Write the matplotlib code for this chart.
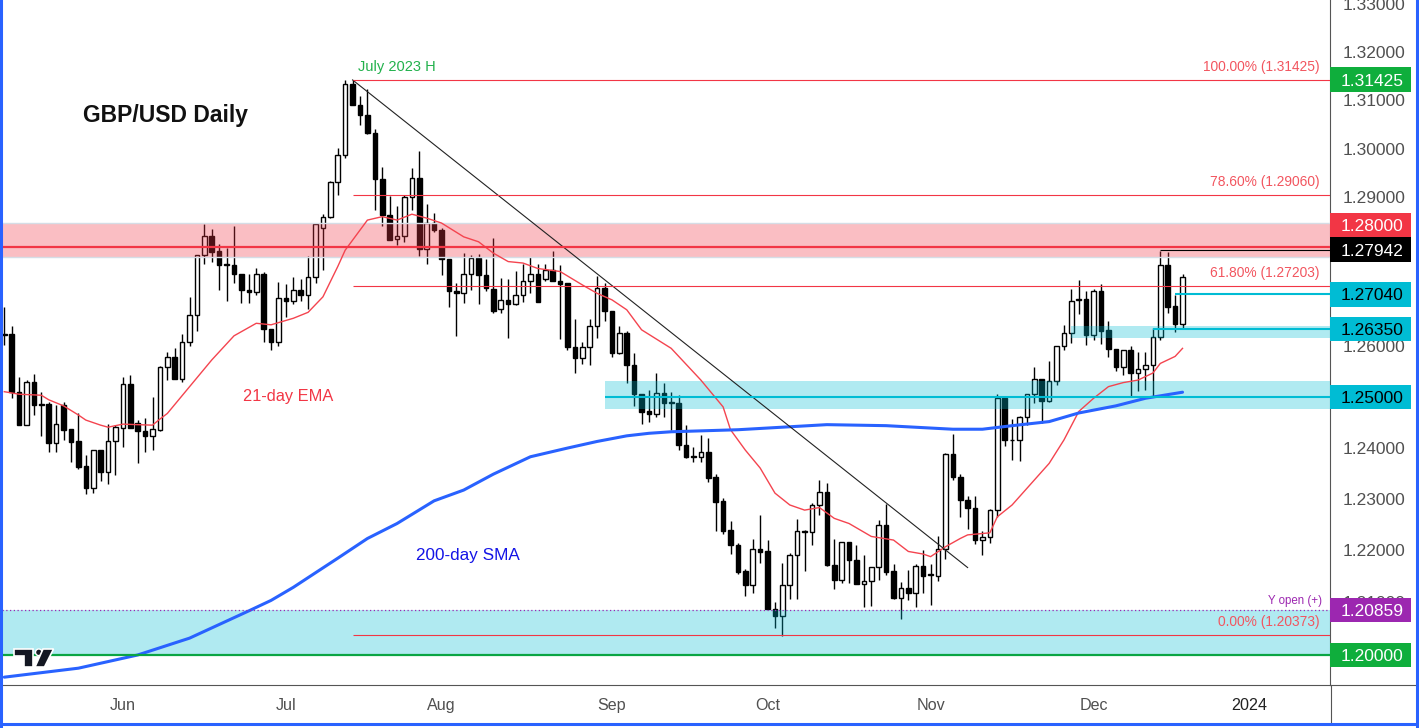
import numpy as np
import pandas as pd
import matplotlib
matplotlib.use("Agg")
import matplotlib.pyplot as plt
from matplotlib.patches import Rectangle, Polygon, Ellipse
from matplotlib.lines import Line2D
from matplotlib.ticker import FixedLocator, FuncFormatter, NullLocator

plt.rcParams['font.family'] = ['Liberation Sans', 'DejaVu Sans']

# ---------------- data (GBP/USD daily) ----------------
first_day = '2023-05-10'
opens = [1.2622, 1.2625, 1.2509, 1.2445, 1.2529, 1.2485, 1.2485, 1.2408, 1.2484, 1.2436,
         1.2413, 1.2363, 1.2321, 1.2395, 1.2353, 1.2412, 1.2439, 1.2525, 1.2448, 1.2433,
         1.2422, 1.2435, 1.2558, 1.2578, 1.2535, 1.2609, 1.2663, 1.2783, 1.2822, 1.2791,
         1.2765, 1.2764, 1.2744, 1.2713, 1.2709, 1.2744, 1.2634, 1.2609, 1.2696, 1.2690,
         1.2713, 1.2702, 1.2738, 1.2837, 1.2860, 1.2932, 1.2986, 1.3134, 1.3089, 1.3070,
         1.3032, 1.2937, 1.2865, 1.2815, 1.2822, 1.2900, 1.2939, 1.2795, 1.2848, 1.2834,
         1.2776, 1.2711, 1.2706, 1.2745, 1.2778, 1.2742, 1.2715, 1.2674, 1.2693, 1.2685,
         1.2703, 1.2731, 1.2745, 1.2734, 1.2754, 1.2731, 1.2726, 1.2599, 1.2577, 1.2599,
         1.2641, 1.2716, 1.2671, 1.2586, 1.2626, 1.2563, 1.2505, 1.2472, 1.2466, 1.2507,
         1.2488, 1.2488, 1.2406, 1.2383, 1.2382, 1.2391, 1.2342, 1.2296, 1.2240, 1.2211,
         1.2160, 1.2134, 1.2202, 1.2198, 1.2087, 1.2075, 1.2133, 1.2191, 1.2237, 1.2236,
         1.2287, 1.2314, 1.2172, 1.2143, 1.2216, 1.2182, 1.2136, 1.2141, 1.2169, 1.2249,
         1.2160, 1.2109, 1.2127, 1.2119, 1.2170, 1.2152, 1.2151, 1.2202, 1.2387, 1.2343,
         1.2298, 1.2282, 1.2221, 1.2226, 1.2278, 1.2498, 1.2414, 1.2414, 1.2461, 1.2505,
         1.2536, 1.2492, 1.2531, 1.2601, 1.2626, 1.2692, 1.2695, 1.2622, 1.2711, 1.2632,
         1.2594, 1.2558, 1.2593, 1.2548, 1.2555, 1.2562, 1.2618, 1.2764, 1.2680, 1.2645]
highs = [1.2678, 1.2641, 1.2539, 1.2533, 1.2545, 1.2509, 1.2490, 1.2484, 1.2490, 1.2436,
         1.2467, 1.2385, 1.2395, 1.2395, 1.2446, 1.2444, 1.2540, 1.2543, 1.2454, 1.2458,
         1.2499, 1.2561, 1.2589, 1.2596, 1.2624, 1.2698, 1.2783, 1.2847, 1.2835, 1.2805,
         1.2797, 1.2842, 1.2744, 1.2745, 1.2758, 1.2749, 1.2634, 1.2728, 1.2725, 1.2739,
         1.2734, 1.2781, 1.2847, 1.2867, 1.2934, 1.3001, 1.3142, 1.3142, 1.3108, 1.3123,
         1.3041, 1.2962, 1.2904, 1.2883, 1.2906, 1.2960, 1.2996, 1.2887, 1.2869, 1.2837,
         1.2776, 1.2727, 1.2788, 1.2783, 1.2785, 1.2776, 1.2817, 1.2736, 1.2735, 1.2750,
         1.2765, 1.2779, 1.2765, 1.2765, 1.2791, 1.2764, 1.2726, 1.2654, 1.2609, 1.2654,
         1.2740, 1.2727, 1.2671, 1.2640, 1.2631, 1.2586, 1.2505, 1.2513, 1.2548, 1.2528,
         1.2510, 1.2504, 1.2444, 1.2402, 1.2424, 1.2419, 1.2349, 1.2302, 1.2257, 1.2215,
         1.2165, 1.2223, 1.2269, 1.2220, 1.2100, 1.2175, 1.2195, 1.2260, 1.2240, 1.2291,
         1.2337, 1.2330, 1.2223, 1.2216, 1.2216, 1.2210, 1.2192, 1.2169, 1.2258, 1.2289,
         1.2174, 1.2139, 1.2162, 1.2173, 1.2200, 1.2173, 1.2227, 1.2390, 1.2427, 1.2348,
         1.2306, 1.2306, 1.2237, 1.2281, 1.2505, 1.2498, 1.2456, 1.2463, 1.2505, 1.2559,
         1.2536, 1.2570, 1.2601, 1.2642, 1.2715, 1.2733, 1.2711, 1.2714, 1.2725, 1.2650,
         1.2594, 1.2593, 1.2601, 1.2589, 1.2589, 1.2636, 1.2792, 1.2789, 1.2702, 1.2744]
lows = [1.2603, 1.2497, 1.2445, 1.2445, 1.2464, 1.2422, 1.2391, 1.2391, 1.2414, 1.2372,
        1.2358, 1.2309, 1.2312, 1.2335, 1.2328, 1.2347, 1.2402, 1.2439, 1.2369, 1.2392,
        1.2395, 1.2433, 1.2533, 1.2535, 1.2530, 1.2600, 1.2630, 1.2766, 1.2769, 1.2713,
        1.2691, 1.2726, 1.2686, 1.2687, 1.2703, 1.2609, 1.2592, 1.2600, 1.2659, 1.2684,
        1.2690, 1.2674, 1.2726, 1.2752, 1.2858, 1.2906, 1.2980, 1.3089, 1.3049, 1.3030,
        1.2875, 1.2841, 1.2814, 1.2803, 1.2809, 1.2875, 1.2781, 1.2765, 1.2829, 1.2743,
        1.2679, 1.2621, 1.2686, 1.2713, 1.2684, 1.2710, 1.2667, 1.2667, 1.2617, 1.2683,
        1.2688, 1.2706, 1.2688, 1.2730, 1.2730, 1.2615, 1.2592, 1.2547, 1.2565, 1.2563,
        1.2617, 1.2651, 1.2578, 1.2585, 1.2528, 1.2482, 1.2446, 1.2451, 1.2460, 1.2460,
        1.2434, 1.2396, 1.2379, 1.2372, 1.2372, 1.2332, 1.2237, 1.2231, 1.2194, 1.2154,
        1.2112, 1.2119, 1.2176, 1.2087, 1.2052, 1.2037, 1.2106, 1.2106, 1.2160, 1.2210,
        1.2269, 1.2170, 1.2125, 1.2138, 1.2137, 1.2136, 1.2091, 1.2094, 1.2143, 1.2153,
        1.2106, 1.2068, 1.2105, 1.2091, 1.2119, 1.2096, 1.2141, 1.2184, 1.2337, 1.2264,
        1.2242, 1.2212, 1.2192, 1.2215, 1.2265, 1.2403, 1.2376, 1.2374, 1.2444, 1.2487,
        1.2449, 1.2490, 1.2523, 1.2592, 1.2607, 1.2664, 1.2603, 1.2612, 1.2605, 1.2579,
        1.2551, 1.2543, 1.2502, 1.2512, 1.2513, 1.2502, 1.2612, 1.2667, 1.2628, 1.2636]
closes = [1.2625, 1.2509, 1.2445, 1.2529, 1.2484, 1.2484, 1.2408, 1.2446, 1.2435, 1.2411,
          1.2362, 1.2321, 1.2395, 1.2353, 1.2412, 1.2441, 1.2525, 1.2439, 1.2433, 1.2422,
          1.2436, 1.2558, 1.2578, 1.2535, 1.2609, 1.2663, 1.2783, 1.2822, 1.2790, 1.2764,
          1.2764, 1.2744, 1.2712, 1.2709, 1.2744, 1.2634, 1.2609, 1.2696, 1.2690, 1.2713,
          1.2702, 1.2738, 1.2847, 1.2860, 1.2932, 1.2987, 1.3134, 1.3089, 1.3070, 1.3032,
          1.2937, 1.2864, 1.2814, 1.2822, 1.2900, 1.2939, 1.2795, 1.2848, 1.2833, 1.2775,
          1.2711, 1.2706, 1.2745, 1.2778, 1.2742, 1.2716, 1.2670, 1.2693, 1.2685, 1.2703,
          1.2731, 1.2745, 1.2688, 1.2754, 1.2730, 1.2724, 1.2599, 1.2577, 1.2599, 1.2641,
          1.2716, 1.2671, 1.2586, 1.2626, 1.2562, 1.2505, 1.2470, 1.2466, 1.2507, 1.2488,
          1.2487, 1.2405, 1.2382, 1.2382, 1.2391, 1.2341, 1.2294, 1.2238, 1.2210, 1.2158,
          1.2134, 1.2202, 1.2197, 1.2087, 1.2075, 1.2134, 1.2191, 1.2237, 1.2236, 1.2287,
          1.2314, 1.2172, 1.2143, 1.2216, 1.2181, 1.2136, 1.2141, 1.2169, 1.2249, 1.2158,
          1.2109, 1.2127, 1.2119, 1.2170, 1.2151, 1.2152, 1.2202, 1.2387, 1.2342, 1.2298,
          1.2282, 1.2221, 1.2226, 1.2278, 1.2498, 1.2414, 1.2414, 1.2461, 1.2505, 1.2536,
          1.2492, 1.2531, 1.2601, 1.2626, 1.2691, 1.2695, 1.2622, 1.2711, 1.2631, 1.2594,
          1.2558, 1.2593, 1.2548, 1.2555, 1.2562, 1.2618, 1.2764, 1.2679, 1.2645, 1.2739]

# 21-day EMA, read at sample dates
ema_dates = ['2023-05-10', '2023-05-12', '2023-05-17', '2023-05-18', '2023-05-22', '2023-05-24',
             '2023-05-25', '2023-05-29', '2023-05-30', '2023-06-01', '2023-06-05', '2023-06-07',
             '2023-06-08', '2023-06-09', '2023-06-19', '2023-06-22', '2023-06-27', '2023-06-29',
             '2023-07-04', '2023-07-06', '2023-07-10', '2023-07-12', '2023-07-13', '2023-07-18',
             '2023-07-20', '2023-07-24', '2023-07-26', '2023-07-28', '2023-08-01', '2023-08-04',
             '2023-08-08', '2023-08-10', '2023-08-14', '2023-08-16', '2023-08-18', '2023-08-23',
             '2023-08-28', '2023-08-30', '2023-09-01', '2023-09-05', '2023-09-07', '2023-09-13',
             '2023-09-19', '2023-09-22', '2023-09-25', '2023-09-27', '2023-09-29', '2023-10-03',
             '2023-10-05', '2023-10-09', '2023-10-11', '2023-10-13', '2023-10-17', '2023-10-20',
             '2023-10-25', '2023-10-27', '2023-10-31', '2023-11-01', '2023-11-03', '2023-11-07',
             '2023-11-08', '2023-11-13', '2023-11-14', '2023-11-16', '2023-11-23', '2023-11-27',
             '2023-11-29', '2023-12-01', '2023-12-05', '2023-12-07', '2023-12-11', '2023-12-13',
             '2023-12-14', '2023-12-18', '2023-12-19']
ema_values = [1.2510, 1.2505, 1.2503, 1.2494, 1.2482, 1.2464, 1.2454, 1.2444, 1.2440, 1.2446,
              1.2445, 1.2444, 1.2456, 1.2467, 1.2573, 1.2621, 1.2646, 1.2643, 1.2656, 1.2668,
              1.2699, 1.2760, 1.2793, 1.2854, 1.2861, 1.2854, 1.2866, 1.2858, 1.2848, 1.2820,
              1.2810, 1.2787, 1.2770, 1.2767, 1.2756, 1.2750, 1.2723, 1.2706, 1.2693, 1.2673,
              1.2633, 1.2596, 1.2533, 1.2480, 1.2435, 1.2395, 1.2360, 1.2311, 1.2288, 1.2278,
              1.2283, 1.2262, 1.2252, 1.2227, 1.2220, 1.2198, 1.2193, 1.2188, 1.2207, 1.2223,
              1.2230, 1.2234, 1.2265, 1.2288, 1.2369, 1.2415, 1.2471, 1.2497, 1.2520, 1.2528,
              1.2533, 1.2547, 1.2566, 1.2580, 1.2596]

# 200-day SMA, read at sample dates
sma_dates = ['2023-05-10', '2023-05-24', '2023-06-05', '2023-06-14', '2023-06-26', '2023-06-29',
             '2023-07-04', '2023-07-07', '2023-07-12', '2023-07-18', '2023-07-24', '2023-07-31',
             '2023-08-04', '2023-08-10', '2023-08-17', '2023-08-24', '2023-08-30', '2023-09-05',
             '2023-09-08', '2023-09-13', '2023-09-26', '2023-10-12', '2023-10-24', '2023-11-06',
             '2023-11-10', '2023-11-16', '2023-11-23', '2023-11-29', '2023-12-06', '2023-12-12',
             '2023-12-19']
sma_values = [1.1958, 1.1975, 1.2000, 1.2032, 1.2084, 1.2104, 1.2129, 1.2157, 1.2185, 1.2223,
              1.2252, 1.2296, 1.2317, 1.2348, 1.2382, 1.2399, 1.2412, 1.2423, 1.2428, 1.2431,
              1.2435, 1.2445, 1.2443, 1.2436, 1.2436, 1.2443, 1.2451, 1.2468, 1.2482, 1.2497,
              1.2509]

# drawings
trend_dates = ['2023-07-14', '2023-11-08']
trend_prices = [1.3142, 1.2167]
fib_start = '2023-07-14'
fib_levels = [1.31425, 1.29060, 1.27203, 1.20373]
fib_labels = ['100.00% (1.31425)', '78.60% (1.29060)', '61.80% (1.27203)', '0.00% (1.20373)']
resist_zone = (1.2780, 1.2848)
resist_line = 1.28000
recent_high = 1.27942
recent_high_date = '2023-12-14'
level_1_2704 = 1.27040
level_1_2704_date = '2023-12-18'
zone_1_2635 = (1.2616, 1.2641)
zone_1_2635_date = '2023-11-28'
level_1_2635 = 1.26350
level_1_2635_date = '2023-12-13'
zone_1_25 = (1.2475, 1.2531)
zone_1_25_date = '2023-08-31'
level_1_25 = 1.25000
yopen = 1.20859
support = 1.20000

month_dates = ['2023-06-01', '2023-07-03', '2023-08-01', '2023-09-01', '2023-10-02',
               '2023-11-01', '2023-12-01', '2024-01-01']
month_labels = ['Jun', 'Jul', 'Aug', 'Sep', 'Oct', 'Nov', 'Dec', '2024']
# plain scale ticks that are not hidden behind a coloured price label
price_ticks = [1.21, 1.22, 1.23, 1.24, 1.26, 1.29, 1.30, 1.31, 1.32, 1.33]

# ---------------- figure ----------------
W, H, DPI = 1419, 728, 100
fig = plt.figure(figsize=(W / DPI, H / DPI), dpi=DPI)
fig.patch.set_facecolor('white')
ax = fig.add_axes([2 / W, 43 / H, 1328 / W, 685 / H])
ax.set_yscale('log')
ax.set_ylim(1.19432, 1.33091)
ax.set_xlim(-0.31, 178.9)
XR = ax.get_xlim()[1]

cal = pd.bdate_range(first_day, '2024-02-29')
pos = {d: i for i, d in enumerate(cal)}
def P(s):
    return pos[pd.Timestamp(s)]

RED = '#f23645'
CYAN = '#00bcd4'
GREEN = '#0fae3c'
PURPLE = '#9c27b0'
BLUE = '#2962ff'

o = np.array(opens); h = np.array(highs); l = np.array(lows); c = np.array(closes)
x = np.arange(len(o))
ax.vlines(x, l, h, color='black', lw=1.0, zorder=3)
up = c >= o
bot = np.minimum(o, c)
hgt = np.maximum(np.abs(c - o), 0.00018)
ax.bar(x[up], hgt[up], bottom=bot[up], width=0.62, facecolor='white', edgecolor='black',
       linewidth=1.0, zorder=4)
ax.bar(x[~up], hgt[~up], bottom=bot[~up], width=0.62, facecolor='black', edgecolor='black',
       linewidth=1.0, zorder=4)

# zones (drawn over candles, semi-transparent)
ax.axhspan(resist_zone[0], resist_zone[1], color=RED, alpha=0.32, lw=0, zorder=5)
ax.axhline(resist_zone[0], color='#d5dde6', lw=1, zorder=5)
ax.axhline(resist_zone[1], color='#d5dde6', lw=1, zorder=5)
ax.axhspan(support, yopen, color=CYAN, alpha=0.31, lw=0, zorder=5)
for d0, (lo, hi) in [(zone_1_25_date, zone_1_25), (zone_1_2635_date, zone_1_2635)]:
    ax.add_patch(Rectangle((P(d0), lo), XR - P(d0) + 5, hi - lo, facecolor=CYAN,
                           alpha=0.31, lw=0, zorder=5))

# moving averages
ax.plot([P(d) for d in ema_dates], ema_values, color='#f4444f', lw=1.0, zorder=6)
ax.plot([P(d) for d in sma_dates], sma_values, color=BLUE, lw=2.2, zorder=6,
        solid_capstyle='round', solid_joinstyle='round')

# trend line
ax.plot([P(d) for d in trend_dates], trend_prices, color='#222222', lw=0.8, zorder=6)

# fib lines
for lv, lab in zip(fib_levels, fib_labels):
    ax.hlines(lv, P(fib_start), XR, color=RED, lw=0.8, zorder=6)
    ax.annotate(lab, xy=(XR, lv), xytext=(-10, 9), textcoords='offset pixels',
                ha='right', va='baseline', fontsize=9.9, color='#f2555f', zorder=7)

# horizontal levels
ax.axhline(resist_line, color=RED, lw=1.6, zorder=6)
ax.hlines(recent_high, P(recent_high_date), XR, color='black', lw=0.8, zorder=6)
ax.hlines(level_1_2704, P(level_1_2704_date), XR, color=CYAN, lw=1.5, zorder=6)
ax.hlines(level_1_2635, P(level_1_2635_date), XR, color=CYAN, lw=1.5, zorder=6)
ax.hlines(level_1_25, P(zone_1_25_date), XR, color=CYAN, lw=1.5, zorder=6)
ax.axhline(yopen, color=PURPLE, lw=0.9, ls=(0, (1, 2)), zorder=6)
ax.axhline(support, color='#0aa544', lw=1.6, zorder=6)

# texts in the chart
ax.annotate('July 2023 H', xy=(P(fib_start), fib_levels[0]), xytext=(5, 9),
            textcoords='offset pixels', ha='left', va='baseline', fontsize=10.5,
            color='#22b14c', zorder=7)
ax.annotate('Y open (+)', xy=(XR, yopen), xytext=(-8, 6), textcoords='offset pixels',
            ha='right', va='baseline', fontsize=8.3, color=PURPLE, zorder=7)
fig.text(83 / W, 1 - 121.7 / H, 'GBP/USD Daily', fontsize=16.5, fontweight='bold',
         color='#111111', va='baseline')
fig.text(243 / W, 1 - 401.5 / H, '21-day EMA', fontsize=11.8, color=RED, va='baseline')
fig.text(416 / W, 1 - 560 / H, '200-day SMA', fontsize=12.3, color='#1414e6', va='baseline')

# axes styling
for s in ['top', 'left']:
    ax.spines[s].set_visible(False)
for s in ['right', 'bottom']:
    ax.spines[s].set_color('#555555')
    ax.spines[s].set_linewidth(0.8)
ax.yaxis.tick_right()
ax.yaxis.set_major_locator(FixedLocator(price_ticks))
ax.yaxis.set_minor_locator(NullLocator())
ax.yaxis.set_major_formatter(FuncFormatter(lambda v, _: f'{v:.5f}'))
ax.tick_params(axis='y', length=0, pad=9.2, labelsize=12.5, labelcolor='#505050')
ax.set_xticks([P(d) for d in month_dates])
ax.set_xticklabels(month_labels)
ax.tick_params(axis='x', length=0, pad=9.6, labelsize=11.6, labelcolor='#505050')
ax.get_xticklabels()[-1].set_color('#222222')

# price-scale labels
def pix_y(price):
    return ax.transData.transform((0, price))[1]

def scale_label(py, text, fc, tc):
    fig.patches.append(Rectangle((1330 / W, (py - 12.2) / H), 81 / W, 24.4 / H,
                                 transform=fig.transFigure, facecolor=fc, edgecolor='none',
                                 zorder=5))
    fig.text(1372 / W, py / H, text, ha='center', va='center_baseline', fontsize=12.5,
             color=tc, zorder=6)

py_black = pix_y(recent_high)
scale_label(pix_y(fib_levels[0]), f'{fib_levels[0]:.5f}', GREEN, 'white')
scale_label(py_black + 24.6, f'{resist_line:.5f}', RED, 'white')
scale_label(py_black, f'{recent_high:.5f}', 'black', 'white')
scale_label(pix_y(level_1_2704), f'{level_1_2704:.5f}', CYAN, 'black')
scale_label(pix_y(level_1_2635), f'{level_1_2635:.5f}', CYAN, 'black')
scale_label(pix_y(level_1_25), f'{level_1_25:.5f}', CYAN, 'black')
scale_label(pix_y(yopen), f'{yopen:.5f}', PURPLE, 'white')
scale_label(pix_y(support), f'{support:.5f}', GREEN, 'white')

# axis extensions in the corner
fig.add_artist(Line2D([1330.5 / W, 1330.5 / W], [4 / H, 43 / H], color='#555555', lw=0.8))
fig.add_artist(Line2D([1330 / W, 1415 / W], [43 / H, 43 / H], color='#555555', lw=0.8))

# TradingView logo
def fp(px, py):
    return (px / W, 1 - py / H)
fig.patches.append(Polygon([fp(14, 649), fp(33, 649), fp(33, 667), fp(24, 667), fp(24, 656),
                            fp(14, 656)], closed=True, transform=fig.transFigure,
                           facecolor='#131722', edgecolor='white', lw=1.2, zorder=6))
fig.patches.append(Ellipse(fp(38.8, 652.3), 6.6 / W, 6.6 / H, transform=fig.transFigure,
                           facecolor='#131722', edgecolor='white', lw=1.0, zorder=6))
fig.patches.append(Polygon([fp(43, 649), fp(53.5, 649), fp(44.5, 667), fp(35, 667)],
                           closed=True, transform=fig.transFigure, facecolor='#131722',
                           edgecolor='white', lw=1.2, zorder=6))

# screenshot frame
fig.add_artist(Line2D([1 / W, 1 / W], [0, 1], color=BLUE, lw=2.2))
fig.add_artist(Line2D([1417 / W, 1417 / W], [0, 1], color=BLUE, lw=2.2))
fig.add_artist(Line2D([0, 1], [4.5 / H, 4.5 / H], color=BLUE, lw=2.2))

fig.savefig('out.png', dpi=DPI)
